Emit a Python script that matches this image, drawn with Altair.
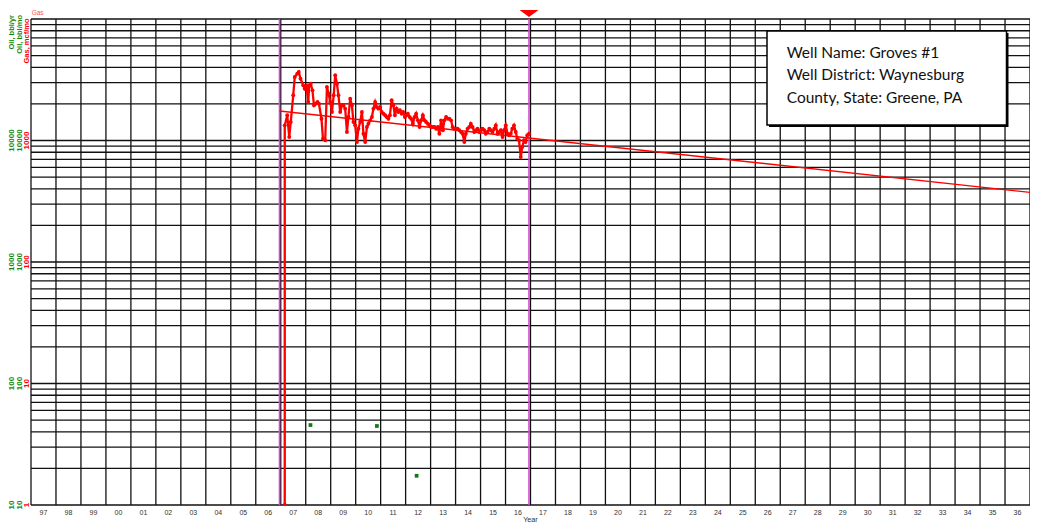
import altair as alt
import pandas as pd

# ---------------- data ----------------
gas_years = [
    2007.16, 2007.16, 2007.26, 2007.34, 2007.40, 2007.50, 2007.56, 2007.66, 2007.72, 2007.79,
    2007.90, 2007.96, 2008.03, 2008.10, 2008.14, 2008.20, 2008.27, 2008.33, 2008.40, 2008.47,
    2008.53, 2008.63, 2008.69, 2008.78, 2008.85, 2008.92, 2008.98, 2009.05, 2009.12, 2009.18,
    2009.25, 2009.31, 2009.38, 2009.45, 2009.51, 2009.58, 2009.65, 2009.71, 2009.78, 2009.85,
    2009.91, 2009.98, 2010.05, 2010.11, 2010.18, 2010.25, 2010.31, 2010.38, 2010.45, 2010.51,
    2010.58, 2010.65, 2010.71, 2010.78, 2010.84, 2010.91, 2010.98, 2011.04, 2011.11, 2011.18,
    2011.24, 2011.31, 2011.37, 2011.44, 2011.51, 2011.57, 2011.64, 2011.71, 2011.77, 2011.84,
    2011.90, 2011.97, 2012.04, 2012.09, 2012.16, 2012.22, 2012.29, 2012.36, 2012.42, 2012.49,
    2012.56, 2012.62, 2012.69, 2012.76, 2012.82, 2012.89, 2012.96, 2013.02, 2013.09, 2013.16,
    2013.22, 2013.29, 2013.35, 2013.42, 2013.49, 2013.55, 2013.62, 2013.69, 2013.75, 2013.82,
    2013.88, 2013.95, 2014.02, 2014.08, 2014.15, 2014.22, 2014.28, 2014.35, 2014.41, 2014.48,
    2014.55, 2014.61, 2014.68, 2014.75, 2014.81, 2014.88, 2014.95, 2015.01, 2015.08, 2015.15,
    2015.21, 2015.28, 2015.35, 2015.41, 2015.48, 2015.55, 2015.61, 2015.68, 2015.75, 2015.81,
    2015.88, 2015.94, 2016.01, 2016.08, 2016.14, 2016.21, 2016.27, 2016.34, 2016.41, 2016.47,
    2016.54, 2016.61, 2016.67, 2016.74, 2016.80, 2016.87, 2016.94,
]
gas_values = [
    1, 1333, 1612, 1069, 1419, 2355, 3333, 3548, 3664, 3228,
    2844, 2669, 2810, 2075, 2844, 2933, 2588, 1948, 2009, 2075,
    2009, 1511, 1035, 1004, 2757, 2427, 2075, 1718, 2355, 3443,
    2933, 2355, 1718, 1948, 1948, 1828, 1175, 1561, 2208, 1948,
    1419, 1333, 972, 1250, 1419, 1718, 1137, 972, 1291, 1374,
    1466, 1561, 1828, 2075, 1888, 1828, 1888, 1718, 1663, 1612,
    1561, 1511, 1612, 2143, 1948, 1612, 1828, 1718, 1774, 1663,
    1718, 1561, 1612, 1663, 1561, 1511, 1374, 1561, 1663, 1466,
    1291, 1466, 1612, 1466, 1419, 1374, 1333, 1291, 1291, 1291,
    1250, 1291, 1137, 1466, 1213, 1466, 1561, 1511, 1511, 1466,
    1291, 1250, 1250, 1250, 1213, 1175, 1137, 972, 1137, 1250,
    1291, 1374, 1291, 1175, 1213, 1250, 1175, 1213, 1250, 1213,
    1137, 1175, 1250, 1213, 1175, 1250, 1333, 1137, 1175, 1213,
    1069, 1213, 1333, 1137, 1104, 1137, 1250, 1333, 1175, 1035,
    1004, 731, 885, 1004, 972, 1104, 1137,
]
oil_years = [2008.19, 2010.85, 2012.44]
oil_values = [45.5, 44.7, 17.4]
decline_years = [2006.95, 2037.0]
decline_values = [1750, 374]
marker_years = [2006.95, 2016.94]
current_year = [2016.94]

grid_years = list(range(1997, 2038))
grid_values = [k * 10 ** d for d in range(4) for k in range(1, 10)] + [10000]
label_years = list(range(1997, 2037))
year_labels = [str(y)[2:] for y in label_years]
gas_tick_values = [1, 10, 100, 1000]
gas_tick_labels = ["1", "10", "100", "1000"]
oil_tick_values = [10, 100, 1000, 10000]
oil_tick_labels = ["10", "100", "1000", "10000"]
info_lines = ["Well Name: Groves #1", "Well District: Waynesburg", "County, State: Greene, PA"]

# ---------------- tables ----------------
gas_df = pd.DataFrame({"year": gas_years, "gas": gas_values, "i": range(len(gas_values))})
oil_df = pd.DataFrame({"year": oil_years, "oil": oil_values})
dec_df = pd.DataFrame({"year": decline_years, "gas": decline_values})
mark_df = pd.DataFrame({"year": marker_years})
cur_df = pd.DataFrame({"year": current_year})
vgrid_df = pd.DataFrame({"year": grid_years})
hgrid_df = pd.DataFrame({"gas": grid_values})
ylab_df = pd.DataFrame({"year": [y + 0.5 for y in label_years], "label": year_labels})
gtick_df = pd.DataFrame({"gas": gas_tick_values, "label": gas_tick_labels})
otick_df = pd.DataFrame({"oil": oil_tick_values, "label": oil_tick_labels})
info_df = pd.DataFrame({"text": ["\n".join(info_lines)]})

W, H = 999, 486
xs = alt.Scale(domain=[1997, 2037], nice=False, zero=False)
gs = alt.Scale(type="log", domain=[1, 10000], nice=False)
os_ = alt.Scale(type="log", domain=[10, 100000], nice=False)
X = lambda: alt.X("year:Q", scale=xs, axis=None)
FONT = "Liberation Sans"

vgrid = alt.Chart(vgrid_df).mark_rule(color="#111", strokeWidth=1.3).encode(x=X())
hgrid = alt.Chart(hgrid_df).mark_rule(color="#111", strokeWidth=1.3).encode(
    y=alt.Y("gas:Q", scale=gs, axis=None))

markers = alt.Chart(mark_df).mark_rule(color="#d24bd2", strokeWidth=1.6).encode(x=X())

decline = alt.Chart(dec_df).mark_line(color="#ff0000", strokeWidth=1.4, clip=True).encode(
    x=X(), y=alt.Y("gas:Q", scale=gs, axis=None))

gas_line = alt.Chart(gas_df).mark_line(
    color="#ff0000", strokeWidth=2.3,
    point=alt.OverlayMarkDef(filled=True, color="#ff0000", size=15), clip=True,
).encode(x=X(), y=alt.Y("gas:Q", scale=gs, axis=None), order="i:Q")

oil_pts = alt.Chart(oil_df).mark_square(color="#137a13", size=14, opacity=1).encode(
    x=X(), y=alt.Y("oil:Q", scale=os_, axis=None))

tri = alt.Chart(cur_df).mark_point(
    shape="M-1,-0.37L1,-0.37L0,0.37Z", filled=True, color="#ff0000", size=361, opacity=1
).encode(x=X(), y=alt.value(-5.5))

ylabels = alt.Chart(ylab_df).mark_text(
    font=FONT, fontSize=7, color="#333333", baseline="middle").encode(
    x=X(), y=alt.value(494), text="label:N")
year_title = alt.Chart(cur_df).mark_text(
    font=FONT, fontSize=7.2, color="#333333", text="Year", baseline="middle").encode(
    x=alt.value(W / 2), y=alt.value(500.5))

gas_ticks = alt.Chart(gtick_df).mark_text(
    font=FONT, fontSize=8, fontWeight="bold", color="#ff0000", angle=270,
    align="center", baseline="middle").encode(
    x=alt.value(-4.5), y=alt.Y("gas:Q", scale=gs, axis=None), text="label:N")
oil_ticks_yr = alt.Chart(otick_df).mark_text(
    font=FONT, fontSize=8, fontWeight="bold", color="#118811", angle=270,
    align="center", baseline="middle").encode(
    x=alt.value(-19.5), y=alt.Y("oil:Q", scale=os_, axis=None), text="label:N")
oil_ticks_mo = alt.Chart(otick_df).mark_text(
    font=FONT, fontSize=8, fontWeight="bold", color="#118811", angle=270,
    align="center", baseline="middle").encode(
    x=alt.value(-11.5), y=alt.Y("oil:Q", scale=os_, axis=None), text="label:N")

t_oil_yr = alt.Chart(cur_df).mark_text(
    font=FONT, fontSize=7.5, fontWeight="bold", color="#118811", angle=270,
    align="right", baseline="middle", text="Oil, bbl/yr").encode(
    x=alt.value(-19.5), y=alt.value(-4))
t_oil_mo = alt.Chart(cur_df).mark_text(
    font=FONT, fontSize=7.5, fontWeight="bold", color="#118811", angle=270,
    align="right", baseline="middle", text="Oil, bbl/mo").encode(
    x=alt.value(-11.5), y=alt.value(-4))
t_gas = alt.Chart(cur_df).mark_text(
    font=FONT, fontSize=7.5, fontWeight="bold", color="#ff0000", angle=270,
    align="right", baseline="middle", text="Gas, mcf/mo").encode(
    x=alt.value(-4.5), y=alt.value(-0.5))
t_gas_top = alt.Chart(cur_df).mark_text(
    font=FONT, fontSize=6.5, color="#ff5555", align="left", baseline="middle",
    text="Gas").encode(x=alt.value(0.7), y=alt.value(-6.5))

shadow = alt.Chart(cur_df).mark_rect(color="#000000").encode(
    x=alt.value(738), x2=alt.value(977.5), y=alt.value(14), y2=alt.value(108))
box = alt.Chart(cur_df).mark_rect(fill="white", stroke="black", strokeWidth=1.5).encode(
    x=alt.value(736), x2=alt.value(975.5), y=alt.value(12), y2=alt.value(106))
info = alt.Chart(info_df).mark_text(
    font="Lato", fontSize=15.5, color="#111111", align="left", baseline="alphabetic",
    lineBreak="\n", lineHeight=22.5).encode(
    x=alt.value(755.7), y=alt.value(38.5), text="text:N")

chart = alt.layer(
    vgrid, hgrid, markers, decline, gas_line, oil_pts, tri,
    ylabels, year_title, gas_ticks, oil_ticks_yr, oil_ticks_mo,
    t_oil_yr, t_oil_mo, t_gas, t_gas_top, shadow, box, info,
).resolve_scale(y="independent").properties(
    width=W, height=H,
    autosize=alt.AutoSizeParams(type="none"),
    padding={"left": 23, "top": 11, "right": 0, "bottom": 19},
    background="white",
).configure_view(stroke=None)

chart.save("out.html", embed_options={"renderer": "svg", "actions": False})
